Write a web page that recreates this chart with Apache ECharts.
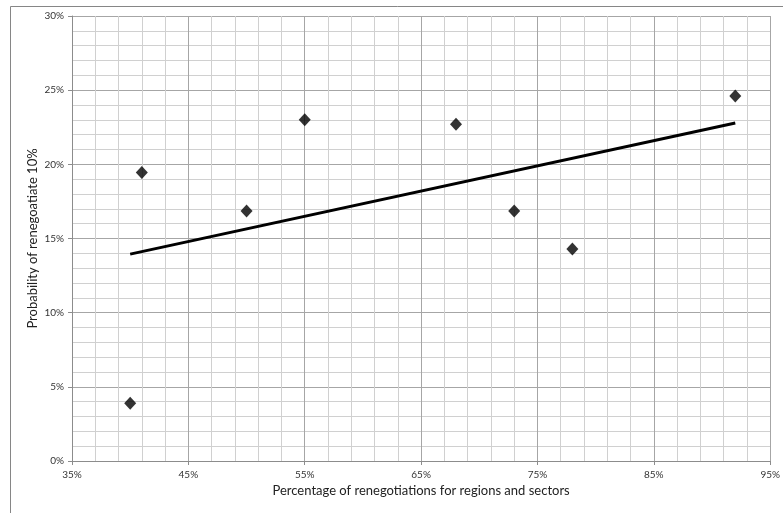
<!DOCTYPE html>
<html><head><meta charset="utf-8">
<script src="https://cdn.jsdelivr.net/npm/echarts@6/dist/echarts.min.js"></script>
<style>html,body{margin:0;padding:0;background:#fff}#c{width:783px;height:513px}</style>
</head><body><div id="c"></div>
<script>
const xValues = [40, 41, 50, 55, 68, 73, 78, 92];
const yValues = [3.9, 19.45, 16.85, 23.0, 22.7, 16.85, 14.3, 24.6];
const xTitle = 'Percentage of renegotiations for regions and sectors';
const yTitle = 'Probability of renegoatiate 10%';

const points = xValues.map((x, i) => [x, yValues[i]]);
// linear least-squares trendline from the data
const n = xValues.length;
const mx = xValues.reduce((a, b) => a + b, 0) / n;
const my = yValues.reduce((a, b) => a + b, 0) / n;
let sxy = 0, sxx = 0;
xValues.forEach((x, i) => { sxy += (x - mx) * (yValues[i] - my); sxx += (x - mx) * (x - mx); });
const slope = sxy / sxx, icpt = my - slope * mx;
const xMin = Math.min(...xValues), xMax = Math.max(...xValues);
const trend = [[xMin, icpt + slope * xMin], [xMax, icpt + slope * xMax]];

const font = 'Lato, "Open Sans", sans-serif';
const chart = echarts.init(document.getElementById('c'), null, {renderer: 'canvas'});
chart.setOption({
  animation: false,
  graphic: [{type: 'rect', left: 8, top: 4, shape: {width: 800, height: 600}, style: {fill: 'none', stroke: '#868686', lineWidth: 1}, silent: true, z: -1}],
  grid: {left: 72, right: 10, top: 16, bottom: 52, containLabel: false},
  xAxis: {
    type: 'value', min: 35, max: 95, interval: 10,
    name: xTitle, nameLocation: 'middle', nameGap: 23, nameMoveOverlap: false,
    nameTextStyle: {fontFamily: font, fontSize: 13, color: '#222'},
    axisLine: {show: true, onZero: false, lineStyle: {color: '#8c8c8c'}},
    axisTick: {show: true, length: 4, lineStyle: {color: '#8c8c8c'}},
    axisLabel: {formatter: '{value}%', fontFamily: font, fontSize: 10, color: '#333', margin: 9},
    splitLine: {show: true, lineStyle: {color: '#a6a6a6', width: 1}},
    minorTick: {show: false, splitNumber: 5},
    minorSplitLine: {show: true, lineStyle: {color: '#d0d0d0', width: 1}}
  },
  yAxis: {
    type: 'value', min: 0, max: 30, interval: 5,
    name: yTitle, nameLocation: 'middle', nameGap: 33, nameRotate: 90, nameMoveOverlap: false,
    nameTextStyle: {fontFamily: font, fontSize: 13, color: '#222'},
    axisLine: {show: true, onZero: false, lineStyle: {color: '#8c8c8c'}},
    axisTick: {show: true, length: 4, lineStyle: {color: '#8c8c8c'}},
    axisLabel: {formatter: '{value}%', fontFamily: font, fontSize: 10, color: '#333', margin: 8},
    splitLine: {show: true, lineStyle: {color: '#a6a6a6', width: 1}},
    minorTick: {show: false, splitNumber: 5},
    minorSplitLine: {show: true, lineStyle: {color: '#d0d0d0', width: 1}}
  },
  series: [
    {type: 'line', data: trend, symbol: 'none', lineStyle: {color: '#000', width: 3}, z: 2},
    {type: 'scatter', data: points, symbol: 'diamond', symbolSize: [12, 13], itemStyle: {color: '#000'}, z: 3}
  ]
});
</script></body></html>
